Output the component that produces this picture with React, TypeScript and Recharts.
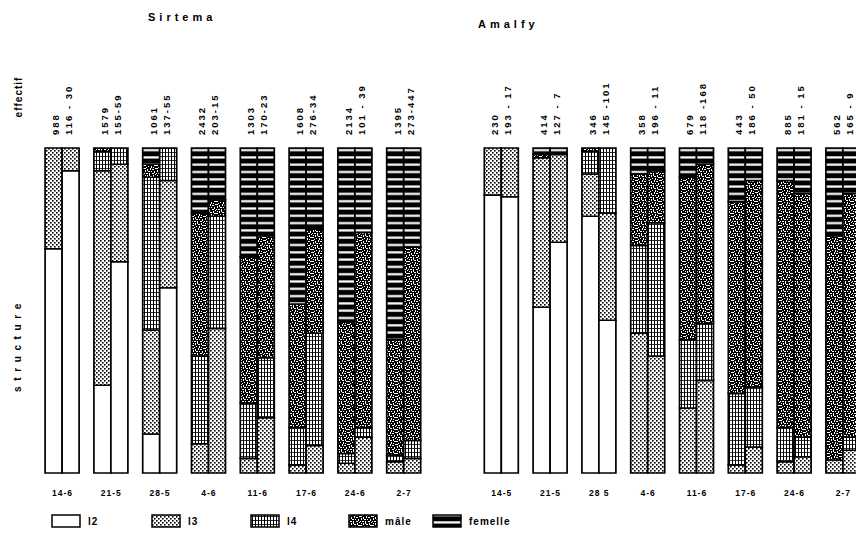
import React from "react";
import { Bar, BarChart, XAxis, YAxis } from "recharts";

// stage classes, bottom to top of every bar
const classes = ["l2", "l3", "l4", "m", "f"];
const legendLabels = ["l2", "l3", "l4", "mâle", "femelle"];

const sirtemaDates = ["14-6", "21-5", "28-5", "4-6", "11-6", "17-6", "24-6", "2-7"];
const amalfyDates = ["14-5", "21-5", "28 5", "4-6", "11-6", "17-6", "24-6", "2-7"];

// effectif: total count, then "males - females"
const sirtemaTotal = ["988", "1579", "1061", "2432", "1303", "1608", "2134", "1395"];
const sirtemaSex = ["116 - 30", "155-59", "137-55", "203-15", "170-23", "276-34", "101 - 39", "273-447"];
const amalfyTotal = ["230", "414", "346", "358", "679", "443", "885", "562"];
const amalfySex = ["193 - 17", "127 - 7", "145 -101", "196 - 11", "118 -168", "186 - 50", "181 - 15", "165 - 9"];

// % of each class [l2, l3, l4, mâle, femelle], left and right bar of each date
const sirtemaLeft = [
  [69, 31, 0, 0, 0],
  [27, 66, 6, 1, 0],
  [12, 32, 47, 4, 5],
  [0, 9, 27, 44, 20],
  [0, 4.5, 17, 45, 33.5],
  [0, 2.5, 11.5, 38, 48],
  [0, 3, 3, 40.5, 53.5],
  [0, 3.5, 2, 35.5, 59],
];
const sirtemaRight = [
  [93, 7, 0, 0, 0],
  [65, 30, 5, 0, 0],
  [57, 33, 10, 0, 0],
  [0, 44.5, 34.5, 5, 16],
  [0, 17, 18.5, 37.5, 27],
  [0, 8.5, 34.5, 32, 25],
  [0, 11, 3, 60, 26],
  [0, 4.5, 5.5, 59.5, 30.5],
];
const amalfyLeft = [
  [85.5, 14.5, 0, 0, 0],
  [51, 46, 0, 1, 2],
  [79, 13, 7, 1, 0],
  [0, 43, 27, 22, 8],
  [0, 20, 21, 50, 9],
  [0, 2.5, 22, 59, 16.5],
  [0, 3.5, 10.5, 76, 10],
  [0, 4, 0, 69, 27],
];
const amalfyRight = [
  [85, 15, 0, 0, 0],
  [71, 27, 0, 0, 2],
  [47, 33, 20, 0, 0],
  [0, 36, 41, 16, 7],
  [0, 28.5, 17.5, 49, 5],
  [0, 8, 18.5, 63.5, 10],
  [0, 5, 6, 75, 14],
  [0, 7, 4, 75, 14],
];

const font = "'Liberation Sans', Arial, sans-serif";

function makeRow(key: string, date: string, total: string, sex: string, left?: number[], right?: number[]) {
  const row: any = { key, date, total, sex };
  const put = (side: string, vals?: number[]) => {
    if (!vals) return;
    const sum = vals.reduce((s, v) => s + v, 0);
    classes.forEach((c, i) => {
      row[`${side}_${c}`] = (vals[i] / sum) * 100;
    });
  };
  put("a", left);
  put("b", right);
  return row;
}

const data = [
  ...sirtemaDates.map((d, i) => makeRow(`s${i}`, d, sirtemaTotal[i], sirtemaSex[i], sirtemaLeft[i], sirtemaRight[i])),
  makeRow("gap", "", "", ""),
  ...amalfyDates.map((d, i) => makeRow(`a${i}`, d, amalfyTotal[i], amalfySex[i], amalfyLeft[i], amalfyRight[i])),
];

// hand-placed white specks for the mottled "mâle" fill
const speck = [
  [0, 0, 2, 1], [3, 1, 1, 2], [6, 0, 1, 2], [8, 1, 2, 1], [11, 0, 1, 1], [1, 2, 1, 2],
  [4, 3, 2, 1], [7, 3, 1, 1], [10, 3, 1, 2], [0, 5, 1, 1], [2, 5, 2, 1], [5, 5, 1, 2],
  [8, 5, 2, 1], [11, 6, 1, 1], [1, 7, 1, 1], [3, 7, 1, 2], [6, 8, 2, 1], [9, 7, 1, 2],
  [0, 9, 2, 1], [4, 10, 1, 1], [7, 10, 1, 2], [10, 9, 2, 1], [2, 11, 1, 1], [9, 11, 1, 1],
  [5, 7, 1, 1],
];

function Patterns() {
  return (
    <svg width={0} height={0} style={{ position: "absolute" }}>
      <defs>
        <pattern id="p-l2" patternUnits="userSpaceOnUse" width={4} height={4}>
          <rect width={4} height={4} fill="#fff" />
        </pattern>
        <pattern id="p-l3" patternUnits="userSpaceOnUse" width={4} height={4}>
          <rect width={4} height={4} fill="#fff" />
          <rect x={0} y={0} width={1.6} height={1.6} fill="#000" />
          <rect x={2} y={2} width={1.6} height={1.6} fill="#000" />
        </pattern>
        <pattern id="p-l4" patternUnits="userSpaceOnUse" width={3} height={4}>
          <rect width={3} height={4} fill="#fff" />
          <rect x={0} y={0} width={1} height={4} fill="#000" />
          <rect x={0} y={0} width={3} height={0.8} fill="#000" />
        </pattern>
        <pattern id="p-m" patternUnits="userSpaceOnUse" width={12} height={12}>
          <rect width={12} height={12} fill="#000" />
          {speck.map(([x, y, w, h], i) => (
            <rect key={i} x={x} y={y} width={w} height={h} fill="#fff" />
          ))}
        </pattern>
        <pattern id="p-f" patternUnits="userSpaceOnUse" width={40} height={7.3}>
          <rect width={40} height={7.3} fill="#000" />
          <rect x={0} y={3} width={40} height={2.2} fill="#fff" />
        </pattern>
      </defs>
    </svg>
  );
}

const labelStyle = { fontFamily: font, fontSize: 9.5, fontWeight: 700, letterSpacing: 2 } as const;

const TopTick = (props: any) => {
  const { x, payload } = props;
  const row = data[payload.index];
  if (!row || !row.total) return null;
  const y = 135;
  return (
    <g>
      <text x={x - 7} y={y} transform={`rotate(-90 ${x - 7} ${y})`} dominantBaseline="central" fill="#000" style={labelStyle}>
        {row.total}
      </text>
      <text x={x + 6} y={y} transform={`rotate(-90 ${x + 6} ${y})`} dominantBaseline="central" fill="#000" style={labelStyle}>
        {row.sex}
      </text>
    </g>
  );
};

const DateTick = (props: any) => {
  const { x, payload } = props;
  const row = data[payload.index];
  if (!row || !row.date) return null;
  return (
    <text x={x} y={496} textAnchor="middle" fill="#000"
      style={{ fontFamily: font, fontSize: 8.5, fontWeight: 700, letterSpacing: 1 }}>
      {row.date}
    </text>
  );
};

function Legend() {
  const xs = [52, 152, 251, 349, 433];
  return (
    <svg width={856} height={541} style={{ position: "absolute", left: 0, top: 0, pointerEvents: "none" }}>
      <text x={148} y={21} fill="#000" style={{ fontFamily: font, fontSize: 11, fontWeight: 700, letterSpacing: 4 }}>
        Sirtema
      </text>
      <text x={478} y={28} fill="#000" style={{ fontFamily: font, fontSize: 11, fontWeight: 700, letterSpacing: 4 }}>
        Amalfy
      </text>
      <text x={18} y={97} transform="rotate(-90 18 97)" textAnchor="middle" dominantBaseline="central" fill="#000"
        style={{ fontFamily: font, fontSize: 10, fontWeight: 700, letterSpacing: 1 }}>
        effectif
      </text>
      <text x={17} y={345} transform="rotate(-90 17 345)" textAnchor="middle" dominantBaseline="central" fill="#000"
        style={{ fontFamily: font, fontSize: 10, fontWeight: 700, letterSpacing: 5.6 }}>
        structure
      </text>
      {classes.map((c, i) => (
        <g key={c}>
          <rect x={xs[i]} y={515} width={28} height={12} fill={`url(#p-${c})`} stroke="#000" strokeWidth={1.5} />
          <text x={xs[i] + 36} y={525} fill="#000"
            style={{ fontFamily: font, fontSize: 10, fontWeight: 700, letterSpacing: 1 }}>
            {legendLabels[i]}
          </text>
        </g>
      ))}
    </svg>
  );
}

export default function App() {
  return (
    <div style={{ position: "absolute", left: 0, top: 0, width: 856, height: 541, overflow: "hidden", background: "#fff" }}>
      <Patterns />
      <BarChart
        width={878}
        height={541}
        data={data}
        margin={{ top: 48, right: 10.3, left: 38.1, bottom: 38 }}
        barGap={0}
        barSize={17}
      >
        <XAxis dataKey="key" height={30} axisLine={false} tickLine={false} tick={<DateTick />} interval={0} />
        <XAxis xAxisId="top" dataKey="key" orientation="top" height={100} axisLine={false} tickLine={false}
          tick={<TopTick />} interval={0} />
        <YAxis hide domain={[0, 100]} />
        {["a", "b"].flatMap((side) =>
          classes.map((c) => (
            <Bar
              key={`${side}_${c}`}
              dataKey={`${side}_${c}`}
              stackId={side}
              fill={`url(#p-${c})`}
              stroke="#000"
              strokeWidth={1.7}
              isAnimationActive={false}
            />
          ))
        )}
      </BarChart>
      <Legend />
    </div>
  );
}
